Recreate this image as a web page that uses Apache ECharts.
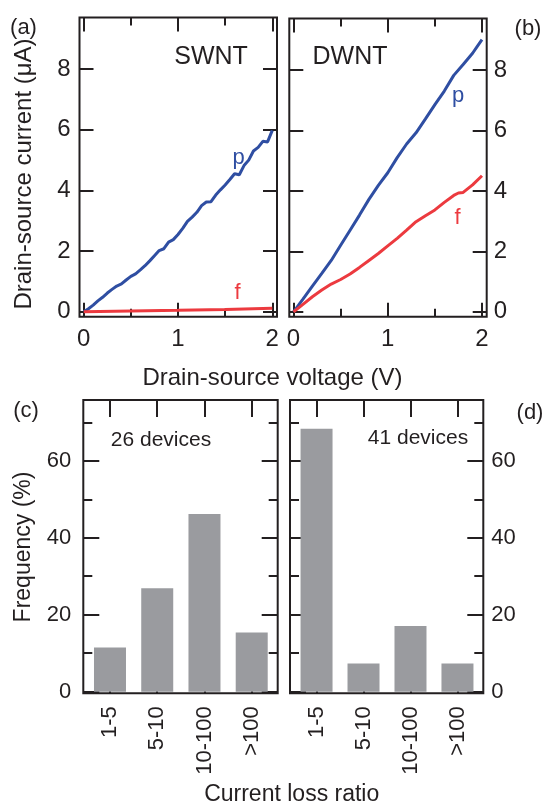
<!DOCTYPE html>
<html>
<head>
<meta charset="utf-8">
<script src="https://cdn.jsdelivr.net/npm/echarts@6/dist/echarts.min.js"></script>
<style>html,body{margin:0;padding:0;background:#fff}#c{width:546px;height:804px}</style>
</head>
<body>
<div id="c"></div>
<script>
// ---- data ----
const swntPV = [0,0.05,0.1,0.15,0.2,0.25,0.3,0.35,0.4,0.45,0.5,0.55,0.6,0.65,0.7,0.75,0.8,0.85,0.9,0.95,1.0,1.05,1.1,1.15,1.2,1.25,1.3,1.35,1.4,1.45,1.5,1.55,1.6,1.65,1.7,1.75,1.8,1.85,1.9,1.95,2.0];
const swntPI = [0,0.1,0.22,0.36,0.48,0.62,0.74,0.85,0.92,1.05,1.17,1.25,1.38,1.52,1.68,1.85,2.02,2.08,2.3,2.38,2.55,2.75,2.98,3.12,3.28,3.5,3.62,3.63,3.85,4.02,4.18,4.36,4.55,4.52,4.82,5.0,5.3,5.42,5.62,5.6,5.98];
const swntFV = [0,0.5,1,1.5,2];
const swntFI = [0,0.03,0.05,0.08,0.12];
const dwntPV = [0,0.1,0.2,0.3,0.4,0.5,0.6,0.7,0.8,0.9,1.0,1.1,1.2,1.3,1.4,1.5,1.6,1.7,1.8,1.9,1.95,2.0];
const dwntPI = [0,0.42,0.85,1.27,1.7,2.2,2.7,3.2,3.72,4.18,4.6,5.1,5.55,5.92,6.38,6.85,7.3,7.82,8.18,8.55,8.78,9.0];
const dwntFV = [0,0.1,0.2,0.3,0.4,0.5,0.6,0.7,0.8,0.9,1.0,1.1,1.2,1.3,1.4,1.5,1.6,1.7,1.75,1.8,1.9,2.0];
const dwntFI = [0,0.25,0.5,0.72,0.92,1.07,1.25,1.47,1.7,1.93,2.18,2.43,2.7,2.98,3.18,3.37,3.62,3.85,3.93,3.95,4.2,4.5];
const lossCats = ['1-5','5-10','10-100','>100'];
const swntFreq = [11.5, 26.9, 46.2, 15.4];
const dwntFreq = [68.3, 7.3, 17.1, 7.3];
const voltTicks = [0,1,2];
const voltMinor = [0.5,1.5];
const currTicks = [0,2,4,6,8];
const freqTicks = [0,20,40,60];
const freqMinor = [10,30,50,70];
const catTicks = [0,1,2,3];

// ---- style ----
const INK = '#231f20';
const BLUE = '#2f4ea2';
const RED = '#ec3a3f';
const GRAY = '#9a9b9f';
const FONT = '"Liberation Sans", Arial, sans-serif';

function ax(gridIndex, position, min, max, ticks, len, showLabel, labelExtra) {
  return {
    type: 'value', gridIndex, position, min, max,
    axisLine: {show: false, onZero: false},
    splitLine: {show: false},
    axisTick: {show: true, inside: true, length: len, customValues: ticks, lineStyle: {color: INK, width: 2}},
    axisLabel: Object.assign({show: showLabel, customValues: ticks, color: INK, fontSize: 22, fontFamily: FONT, margin: 8}, labelExtra || {})
  };
}
const pair = (xs, ys) => xs.map((v, i) => [v, ys[i]]);

const VX = [-0.045, 2.05], IY = [-0.16, 9.7], CX = [-0.565, 3.55], FY = [-0.42, 75.8];
const grids = [
  {left: 79.5, top: 17.5, width: 197.5, height: 299.2},
  {left: 289.3, top: 18.5, width: 197.4, height: 298.2},
  {left: 83.3, top: 400, width: 194.4, height: 293.3},
  {left: 290, top: 400, width: 193.3, height: 293.3}
].map(g => Object.assign({show: true, borderColor: INK, borderWidth: 2, backgroundColor: 'transparent'}, g));

const xAxes = [];
const yAxes = [];
// panel a (grid 0) and b (grid 1)
[0, 1].forEach(g => {
  xAxes.push(ax(g, 'bottom', VX[0], VX[1], voltTicks, 14, true, {margin: 11, fontSize: 24}));
  xAxes.push(ax(g, 'top', VX[0], VX[1], voltTicks, 14, false));
  xAxes.push(ax(g, 'bottom', VX[0], VX[1], voltMinor, 8, false));
  xAxes.push(ax(g, 'top', VX[0], VX[1], voltMinor, 8, false));
  yAxes.push(ax(g, 'left', IY[0], IY[1], currTicks, 14, g === 0, {margin: 9, fontSize: 24}));
  yAxes.push(ax(g, 'right', IY[0], IY[1], currTicks, 14, g === 1, {margin: 7, fontSize: 24}));
});
// panel c (grid 2) and d (grid 3)
[2, 3].forEach(g => {
  xAxes.push(ax(g, 'bottom', CX[0], CX[1], catTicks, 15, true, {rotate: 90, margin: 13, formatter: v => lossCats[Math.round(v)]}));
  xAxes.push(ax(g, 'top', CX[0], CX[1], catTicks, 17, false));
  yAxes.push(ax(g, 'left', FY[0], FY[1], freqTicks, 16, g === 2, {margin: 12}));
  yAxes.push(ax(g, 'right', FY[0], FY[1], freqTicks, 16, g === 3, {margin: 8}));
  yAxes.push(ax(g, 'left', FY[0], FY[1], freqMinor, 9, false));
  yAxes.push(ax(g, 'right', FY[0], FY[1], freqMinor, 9, false));
});

const lineS = (xi, yi, data, color) => ({
  type: 'line', xAxisIndex: xi, yAxisIndex: yi, data, showSymbol: false, symbol: 'none',
  lineStyle: {color, width: 3}, z: 3, animation: false
});
const barS = (xi, yi, vals) => ({
  type: 'bar', xAxisIndex: xi, yAxisIndex: yi, barWidth: 32,
  data: vals.map((v, i) => [i, v]), itemStyle: {color: GRAY}, animation: false
});

const series = [
  lineS(0, 0, pair(swntPV, swntPI), BLUE),
  lineS(0, 0, pair(swntFV, swntFI), RED),
  lineS(4, 2, pair(dwntPV, dwntPI), BLUE),
  lineS(4, 2, pair(dwntFV, dwntFI), RED),
  barS(8, 4, swntFreq),
  barS(10, 8, dwntFreq)
];

const txt = (text, x, y, size, opts) => Object.assign({
  type: 'text', x, y, z: 10,
  style: Object.assign({text, font: size + 'px ' + FONT, fill: INK, align: 'center', textAlign: 'center', verticalAlign: 'middle', textVerticalAlign: 'middle'}, (opts && opts.style) || {})
}, (opts && opts.el) || {});

const graphic = [
  txt('(a)', 23.5, 28, 22),
  txt('(b)', 528, 29, 22),
  txt('(c)', 26, 411, 22),
  txt('(d)', 530, 413, 22),
  txt('SWNT', 211, 57, 25),
  txt('DWNT', 350, 57.5, 25),
  txt('26 devices', 161, 440, 21),
  txt('41 devices', 418, 438, 21),
  txt('p', 238.5, 158, 22, {style: {fill: BLUE}}),
  txt('f', 237.5, 292.5, 22, {style: {fill: RED}}),
  txt('p', 458, 96, 22, {style: {fill: BLUE}}),
  txt('f', 457.5, 217.5, 22, {style: {fill: RED}}),
  txt('Drain-source current (μA)', 24, 174, 24, {el: {rotation: Math.PI / 2}}),
  txt('Drain-source voltage (V)', 272.5, 378, 24),
  txt('Frequency (%)', 24, 547, 23, {el: {rotation: Math.PI / 2}}),
  txt('Current loss ratio', 291.7, 795, 23)
];

const chart = echarts.init(document.getElementById('c'), null, {renderer: 'canvas'});
chart.setOption({
  animation: false,
  backgroundColor: '#fff',
  grid: grids,
  xAxis: xAxes,
  yAxis: yAxes,
  series,
  graphic
});
</script>
</body>
</html>
